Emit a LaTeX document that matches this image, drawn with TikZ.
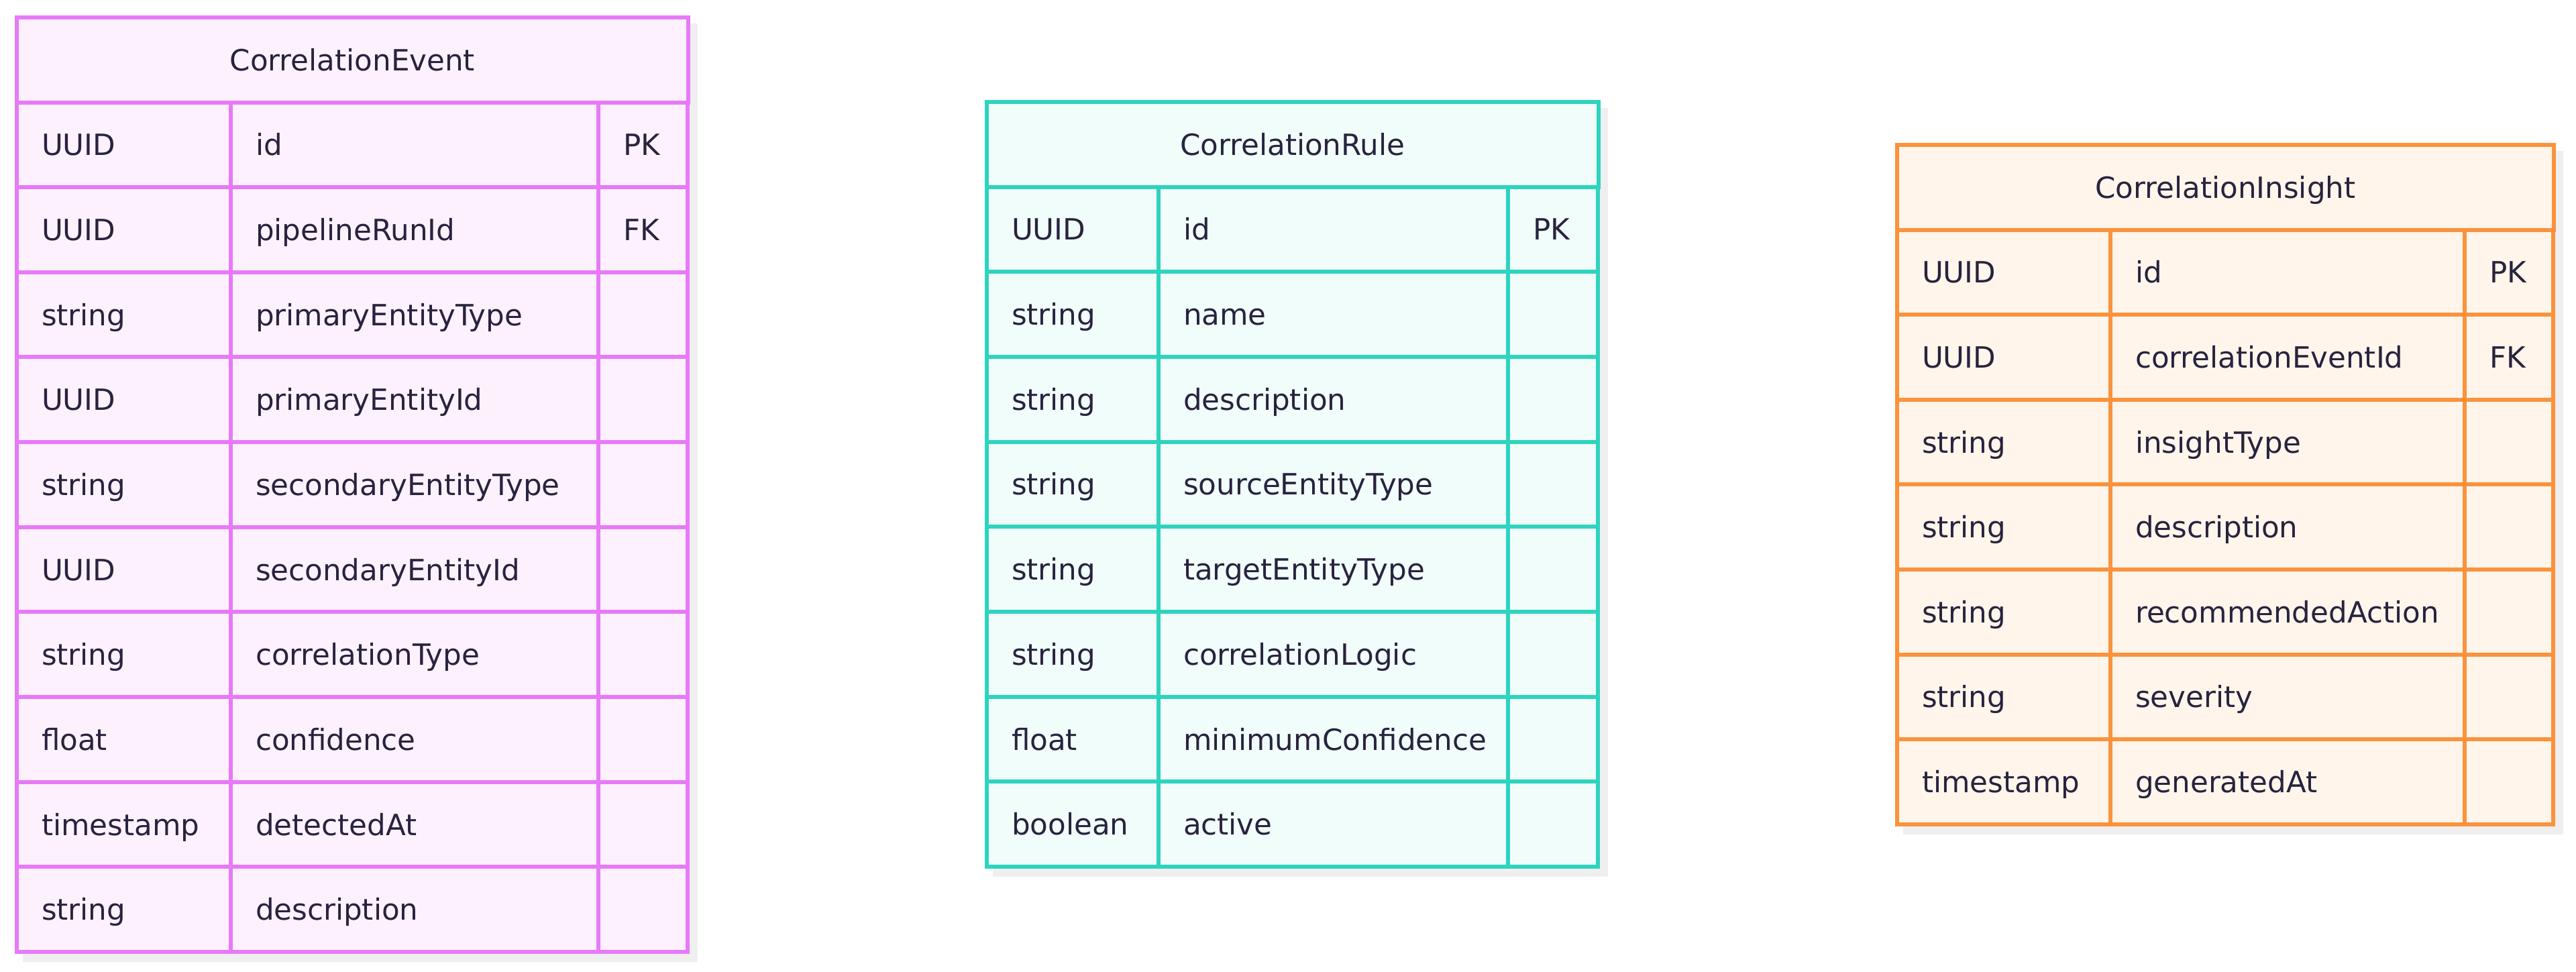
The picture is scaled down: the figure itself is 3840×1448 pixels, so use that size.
\documentclass[tikz,border=0pt]{standalone}
\usepackage{fontspec}
\usepackage{tikz}
\newfontfamily\erfont{DejaVu Sans}
\definecolor{ink}{HTML}{28233E}
\definecolor{shadowgray}{HTML}{EFEFEF}
\definecolor{evline}{HTML}{E879F9}
\definecolor{evfill}{HTML}{FDF1FE}
\definecolor{ruline}{HTML}{2DD4BF}
\definecolor{rufill}{HTML}{F0FDFA}
\definecolor{inline}{HTML}{FB923C}
\definecolor{infill}{HTML}{FFF5EB}
\tikzset{
  cell/.style = {draw, line width=0.06cm, outer sep=0pt, anchor=north west,
    inner xsep=0.37cm, inner ysep=0pt, minimum height=1.266cm,
    text height=9.1pt, text depth=0pt, align=left,
    font=\fontsize{12.4}{15}\erfont, text=ink},
  head/.style = {cell, align=center, inner xsep=0pt, minimum height=1.27cm},
  evc/.style = {draw=evline, fill=evfill},% CorrelationEvent
  ruc/.style = {draw=ruline, fill=rufill},% CorrelationRule
  inc/.style = {draw=inline, fill=infill},% CorrelationInsight
  dropbox/.style = {fill=shadowgray},
}
\begin{document}
\begin{tikzpicture}[x=0.01cm,y=-0.01cm]
  \useasboundingbox (0,0) rectangle (3840,1448);

  % shadows
  \path[dropbox] (34,34.5) rectangle (1040,1434);
  \path[dropbox] (1480,161) rectangle (2397,1307);
  \path[dropbox] (2837,224.5) rectangle (3821,1243.5);

  % CorrelationEvent
  \node[head, evc, minimum width=10cm] (ev-head) at (25,25.5) {CorrelationEvent};
  \foreach \ty/\na/\ke [count=\i] in {UUID/id/PK, UUID/pipelineRunId/FK,
      string/primaryEntityType/{}, UUID/primaryEntityId/{},
      string/secondaryEntityType/{}, UUID/secondaryEntityId/{},
      string/correlationType/{}, float/confidence/{},
      timestamp/detectedAt/{}, string/description/{}}{
    \node[cell, evc, text width=2.45cm] (ev-type-\i) at (25,{152.5+126.65*(\i-1)}) {\ty};
    \node[cell, evc, text width=4.74cm] (ev-name-\i) at (344,{152.5+126.65*(\i-1)}) {\na};
    \node[cell, evc, text width=0.59cm] (ev-key-\i) at (892,{152.5+126.65*(\i-1)}) {\ke};
  }

  % CorrelationRule
  \node[head, ruc, minimum width=9.11cm] (ru-head) at (1471,152) {CorrelationRule};
  \foreach \ty/\na/\ke [count=\i] in {UUID/id/PK, string/name/{},
      string/description/{}, string/sourceEntityType/{},
      string/targetEntityType/{}, string/correlationLogic/{},
      float/minimumConfidence/{}, boolean/active/{}}{
    \node[cell, ruc, text width=1.82cm] (ru-type-\i) at (1471,{278.5+126.7*(\i-1)}) {\ty};
    \node[cell, ruc, text width=4.47cm] (ru-name-\i) at (1727,{278.5+126.7*(\i-1)}) {\na};
    \node[cell, ruc, text width=0.60cm] (ru-key-\i) at (2248,{278.5+126.7*(\i-1)}) {\ke};
  }

  % CorrelationInsight
  \node[head, inc, minimum width=9.78cm] (in-head) at (2828,215.5) {CorrelationInsight};
  \foreach \ty/\na/\ke [count=\i] in {UUID/id/PK, UUID/correlationEventId/FK,
      string/insightType/{}, string/description/{},
      string/recommendedAction/{}, string/severity/{},
      timestamp/generatedAt/{}}{
    \node[cell, inc, text width=2.44cm] (in-type-\i) at (2828,{342.5+126.6*(\i-1)}) {\ty};
    \node[cell, inc, text width=4.54cm] (in-name-\i) at (3146,{342.5+126.6*(\i-1)}) {\na};
    \node[cell, inc, text width=0.58cm] (in-key-\i) at (3674,{342.5+126.6*(\i-1)}) {\ke};
  }
\end{tikzpicture}
\end{document}
